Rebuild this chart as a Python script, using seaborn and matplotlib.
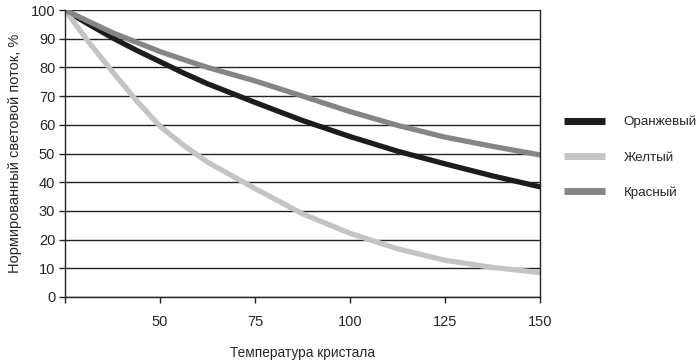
import matplotlib
matplotlib.use("Agg")
import matplotlib.pyplot as plt
import seaborn as sns
import pandas as pd

temperature = [25, 31.25, 37.5, 43.75, 50, 56.25, 62.5, 75, 87.5, 100, 112.5, 125, 137.5, 150]
orange = [100, 95.0, 90.3, 86.0, 82.0, 78.0, 74.3, 67.8, 61.5, 55.9, 50.8, 46.4, 42.2, 38.4]
yellow = [100, 88.8, 78.5, 68.5, 59.5, 52.8, 47.0, 37.8, 29.0, 22.2, 16.8, 12.8, 10.3, 8.5]
red = [100, 96.0, 92.1, 88.8, 85.5, 82.7, 80.0, 75.3, 70.0, 64.6, 59.8, 55.7, 52.5, 49.5]
series_names = ["Оранжевый", "Желтый", "Красный"]
x_ticks = [50, 75, 100, 125, 150]
y_ticks = list(range(0, 101, 10))

sns.set_style("white")
plt.rcParams['font.family'] = ['Liberation Sans', 'DejaVu Sans']

df = pd.concat([
    pd.DataFrame({"T": temperature, "v": vals, "s": name})
    for name, vals in zip(series_names, [orange, yellow, red])
])

fig = plt.figure(figsize=(7, 3.63), dpi=100)
ax = fig.add_axes([65/700, 1-297/363, 475/700, 287/363])
palette = {"Оранжевый": "#1c1c1c", "Желтый": "#c4c4c4", "Красный": "#858585"}
sns.lineplot(data=df, x="T", y="v", hue="s", hue_order=series_names,
             palette=palette, linewidth=3.8, ax=ax, legend=True)

ax.set_xlim(25, 150)
ax.set_ylim(0, 100)
ax.set_xticks([25] + x_ticks)
ax.set_xticklabels([""] + [str(t) for t in x_ticks], fontsize=10.5)
ax.set_yticks(y_ticks)
ax.set_yticklabels([str(t) for t in y_ticks], fontsize=10.5)
ax.yaxis.grid(True, color="#222222", linewidth=1.0)
ax.set_axisbelow(True)
for side in ["left", "bottom", "right"]:
    ax.spines[side].set_visible(True)
    ax.spines[side].set_color("#222222")
    ax.spines[side].set_linewidth(1.0)
ax.spines["top"].set_visible(False)
ax.tick_params(axis="both", direction="out", length=4, width=1, color="#222222",
               left=True, bottom=True)
ax.tick_params(axis="x", pad=9)
ax.tick_params(axis="y", pad=3)

ax.set_xlabel("Температура кристала", fontsize=9.8, labelpad=12)
ax.set_ylabel("Нормированный световой поток, %", fontsize=10.5, labelpad=6)

handles, labels = ax.get_legend_handles_labels()
leg = ax.legend(handles, labels, loc="center left", bbox_to_anchor=(1.025, 0.486),
                frameon=False, fontsize=9.6, handlelength=3.1, handletextpad=1.4,
                labelspacing=1.72)
for line in leg.get_lines():
    line.set_linewidth(5)
    line.set_solid_capstyle("butt")

fig.savefig("out.png", dpi=100)
